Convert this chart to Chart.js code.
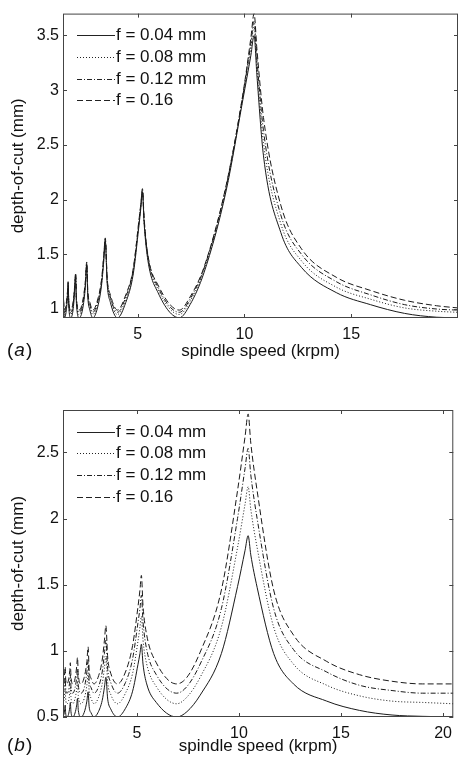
<!DOCTYPE html>
<html>
<head>
<meta charset="utf-8">
<title>depth-of-cut vs spindle speed</title>
<script src="https://cdn.jsdelivr.net/npm/chart.js@4.4.0/dist/chart.umd.min.js"></script>
<style>
  html, body { margin: 0; padding: 0; background: #fff; }
  #wrap { position: relative; width: 459px; height: 763px; }
  canvas { position: absolute; left: 0; }
  #chartA { top: 0; }
  #chartB { top: 370px; }
</style>
</head>
<body>
<div id="wrap">
  <canvas id="chartA" width="459" height="370"></canvas>
  <canvas id="chartB" width="459" height="393"></canvas>
</div>
<script>
// spindle speed samples (krpm), panel (a)
const speedA = [1.50, 1.57, 1.65, 1.71, 1.74, 1.77, 1.86, 1.97, 2.05, 2.09, 2.13, 2.26, 2.42, 2.55, 2.61,
  2.66, 2.76, 2.90, 3.10, 3.30, 3.41, 3.48, 3.57, 3.72, 4.05, 4.44, 4.79, 5.05, 5.15, 5.22, 5.30,
  5.48, 5.95, 6.95, 7.45, 8.10, 9.14, 9.93, 10.30, 10.45, 10.58, 10.89, 11.70, 12.67, 14.30, 15.90, 17.50, 19.00, 20.00];

// depth-of-cut (mm), panel (a)
const depthA1 = [1.12, 0.92, 0.98, 1.11, 1.22, 1.03, 0.92, 0.99, 1.17, 1.30, 1.05, 0.92, 1.00, 1.21, 1.40,
  1.12, 0.99, 0.92, 1.00, 1.21, 1.44, 1.62, 1.23, 1.06, 0.92, 1.06, 1.32, 1.75, 1.93, 2.07, 1.78,
  1.44, 1.15, 0.92, 1.04, 1.33, 2.08, 2.92, 3.32, 3.50, 3.14, 2.40, 1.70, 1.38, 1.15, 1.04, 0.96, 0.925, 0.92];
const depthA2 = [1.14, 0.95, 1.01, 1.13, 1.23, 1.05, 0.95, 1.02, 1.19, 1.31, 1.07, 0.95, 1.03, 1.23, 1.41,
  1.14, 1.02, 0.95, 1.03, 1.23, 1.46, 1.63, 1.25, 1.09, 0.95, 1.09, 1.34, 1.77, 1.95, 2.08, 1.80,
  1.46, 1.18, 0.95, 1.07, 1.35, 2.10, 2.94, 3.39, 3.58, 3.22, 2.52, 1.78, 1.44, 1.20, 1.09, 1.01, 0.98, 0.97];
const depthA3 = [1.16, 0.97, 1.03, 1.15, 1.24, 1.07, 0.97, 1.04, 1.21, 1.32, 1.09, 0.97, 1.05, 1.25, 1.42,
  1.16, 1.04, 0.97, 1.05, 1.25, 1.48, 1.64, 1.27, 1.11, 0.97, 1.11, 1.36, 1.79, 1.96, 2.09, 1.81,
  1.48, 1.20, 0.97, 1.09, 1.37, 2.12, 2.96, 3.43, 3.63, 3.29, 2.63, 1.86, 1.50, 1.25, 1.13, 1.04, 1.00, 0.99];
const depthA4 = [1.17, 0.99, 1.05, 1.16, 1.25, 1.08, 0.99, 1.06, 1.22, 1.33, 1.10, 0.99, 1.07, 1.26, 1.43,
  1.17, 1.06, 0.99, 1.07, 1.26, 1.49, 1.65, 1.28, 1.13, 0.99, 1.13, 1.37, 1.80, 1.97, 2.10, 1.83,
  1.49, 1.22, 0.99, 1.11, 1.38, 2.13, 2.97, 3.48, 3.70, 3.38, 2.75, 1.95, 1.55, 1.29, 1.17, 1.08, 1.03, 1.01];

// spindle speed samples (krpm), panel (b)
const speedB = [1.38, 1.44, 1.49, 1.51, 1.57, 1.65, 1.71, 1.74, 1.77, 1.86, 1.97, 2.05, 2.09, 2.13, 2.26, 2.42,
  2.55, 2.61, 2.66, 2.76, 2.90, 3.10, 3.30, 3.41, 3.48, 3.57, 3.72, 4.05, 4.44, 4.79, 5.05, 5.15, 5.22, 5.30,
  5.48, 5.95, 6.95, 7.45, 8.10, 9.14, 9.93, 10.30, 10.45, 10.58, 10.89, 11.70, 12.67, 14.30, 15.90, 17.50, 19.00, 20.50];

// depth-of-cut (mm), panel (b)
const depthB1 = [0.50, 0.53, 0.59, 0.53, 0.50, 0.52, 0.57, 0.61, 0.54, 0.50, 0.53, 0.59, 0.64, 0.55, 0.50, 0.535,
  0.62, 0.69, 0.58, 0.53, 0.50, 0.535, 0.625, 0.725, 0.80, 0.635, 0.56, 0.50, 0.565, 0.695, 0.895, 0.98, 1.05, 0.90,
  0.75, 0.61, 0.50, 0.54, 0.665, 0.98, 1.485, 1.76, 1.87, 1.725, 1.48, 0.98, 0.75, 0.62, 0.55, 0.515, 0.505, 0.50];
const depthB2 = [0.60, 0.64, 0.71, 0.64, 0.60, 0.62, 0.68, 0.73, 0.65, 0.60, 0.64, 0.71, 0.77, 0.66, 0.60, 0.64,
  0.74, 0.83, 0.70, 0.64, 0.60, 0.64, 0.75, 0.87, 0.96, 0.76, 0.67, 0.60, 0.68, 0.83, 1.07, 1.18, 1.26, 1.08,
  0.90, 0.73, 0.60, 0.65, 0.80, 1.18, 1.78, 2.11, 2.24, 2.07, 1.78, 1.18, 0.90, 0.74, 0.66, 0.62, 0.61, 0.60];
const depthB3 = [0.68, 0.72, 0.80, 0.72, 0.68, 0.70, 0.77, 0.82, 0.73, 0.68, 0.72, 0.80, 0.86, 0.74, 0.68, 0.72,
  0.84, 0.93, 0.78, 0.72, 0.68, 0.72, 0.84, 0.98, 1.08, 0.86, 0.76, 0.68, 0.76, 0.94, 1.21, 1.32, 1.42, 1.22,
  1.01, 0.82, 0.68, 0.73, 0.90, 1.32, 2.00, 2.38, 2.53, 2.33, 2.00, 1.32, 1.01, 0.84, 0.74, 0.70, 0.68, 0.68];
const depthB4 = [0.75, 0.79, 0.88, 0.79, 0.75, 0.78, 0.85, 0.91, 0.81, 0.75, 0.79, 0.88, 0.95, 0.82, 0.75, 0.80,
  0.92, 1.03, 0.86, 0.79, 0.75, 0.80, 0.93, 1.08, 1.19, 0.95, 0.83, 0.75, 0.84, 1.04, 1.33, 1.46, 1.57, 1.34,
  1.12, 0.91, 0.75, 0.80, 0.99, 1.46, 2.21, 2.62, 2.79, 2.57, 2.21, 1.46, 1.12, 0.92, 0.82, 0.77, 0.75, 0.75];

const feedLabels = ['f = 0.04 mm', 'f = 0.08 mm', 'f = 0.12 mm', 'f = 0.16'];

const xTicksA = [5, 10, 15];
const yTicksA = [1, 1.5, 2, 2.5, 3, 3.5];
const xTicksB = [5, 10, 15, 20];
const yTicksB = [0.5, 1, 1.5, 2, 2.5];

const FONT = "'Liberation Sans', Arial, Helvetica, sans-serif";
const dashes = [[], [1, 2], [5, 2, 1, 2], [6, 3]];

// box, inward ticks, inside legend and panel tag (MATLAB look)
const matlabFrame = {
  id: 'matlabFrame',
  afterDraw(chart, args, opts) {
    const { ctx, chartArea: a, scales: { x, y } } = chart;
    ctx.save();
    ctx.strokeStyle = '#444';
    ctx.lineWidth = 1;
    ctx.setLineDash([]);
    ctx.strokeRect(a.left + 0.5, a.top + 0.5, a.right - a.left - 1, a.bottom - a.top - 1);
    ctx.beginPath();
    x.ticks.forEach(t => {
      const px = Math.round(x.getPixelForValue(t.value)) + 0.5;
      ctx.moveTo(px, a.bottom); ctx.lineTo(px, a.bottom - 4);
      ctx.moveTo(px, a.top); ctx.lineTo(px, a.top + 4);
    });
    y.ticks.forEach(t => {
      const py = Math.round(y.getPixelForValue(t.value)) + 0.5;
      ctx.moveTo(a.left, py); ctx.lineTo(a.left + 4, py);
      ctx.moveTo(a.right, py); ctx.lineTo(a.right - 4, py);
    });
    ctx.stroke();

    // legend
    ctx.font = '17px ' + FONT;
    ctx.fillStyle = '#111';
    ctx.textBaseline = 'middle';
    chart.data.datasets.forEach((ds, i) => {
      const ly = Math.round(a.top + 21.5 + i * 21.7) + 0.5;
      ctx.strokeStyle = '#222';
      ctx.setLineDash(ds.borderDash || []);
      ctx.beginPath();
      ctx.moveTo(a.left + 14, ly);
      ctx.lineTo(a.left + 52, ly);
      ctx.stroke();
      ctx.fillText(ds.label, a.left + 53, ly);
    });

    // panel tag, e.g. (a)
    ctx.setLineDash([]);
    let tx = 7;
    const ty = opts.tagY;
    ctx.font = '19px ' + FONT;
    ctx.fillText('(', tx, ty); tx += ctx.measureText('(').width + 1;
    ctx.font = 'italic 19px ' + FONT;
    ctx.fillText(opts.tag, tx, ty); tx += ctx.measureText(opts.tag).width + 1;
    ctx.font = '19px ' + FONT;
    ctx.fillText(')', tx, ty);
    ctx.restore();
  }
};

function makeChart(id, speed, series, xr, yr, xTicks, yTicks, dims) {
  const datasets = series.map((vals, i) => ({
    label: feedLabels[i],
    data: speed.map((s, j) => ({ x: s, y: vals[j] })),
    borderColor: '#1a1a1a',
    borderWidth: 1,
    borderDash: dashes[i],
    pointRadius: 0,
    cubicInterpolationMode: 'monotone',
    fill: false
  }));
  return new Chart(document.getElementById(id), {
    type: 'line',
    data: { datasets },
    plugins: [matlabFrame],
    options: {
      responsive: false,
      animation: false,
      layout: { padding: { top: dims.top, right: 1, left: 0, bottom: 0 } },
      plugins: {
        legend: { display: false },
        tooltip: { enabled: false },
        matlabFrame: { tag: dims.tag, tagY: dims.tagY }
      },
      scales: {
        x: {
          type: 'linear',
          min: xr[0], max: xr[1],
          grid: { display: false, drawTicks: false },
          border: { display: false },
          afterBuildTicks: s => { s.ticks = xTicks.map(v => ({ value: v })); },
          afterFit: s => { s.height = dims.xh; },
          ticks: { color: '#111', padding: 7, font: { family: FONT, size: 16 }, callback: v => String(v) },
          title: {
            display: true, text: 'spindle speed (krpm)', color: '#111',
            font: { family: FONT, size: 17 }, padding: { top: 0, bottom: dims.titlePad }
          }
        },
        y: {
          type: 'linear',
          min: yr[0], max: yr[1],
          grid: { display: false, drawTicks: false },
          border: { display: false },
          afterBuildTicks: s => { s.ticks = yTicks.map(v => ({ value: v })); },
          afterFit: s => { s.width = 63; },
          ticks: { color: '#111', padding: 4, font: { family: FONT, size: 16 }, callback: v => String(v) },
          title: {
            display: true, text: 'depth-of-cut (mm)', color: '#111',
            font: { family: FONT, size: 17 }, padding: { top: 8, bottom: 0 }
          }
        }
      }
    }
  });
}

makeChart('chartA', speedA, [depthA1, depthA2, depthA3, depthA4],
  [1.5, 20], [0.918, 3.7], xTicksA, yTicksA,
  { top: 10, xh: 52, titlePad: 8, tag: 'a', tagY: 351 });

makeChart('chartB', speedB, [depthB1, depthB2, depthB3, depthB4],
  [1.38, 20.5], [0.5, 2.82], xTicksB, yTicksB,
  { top: 40, xh: 46, titlePad: 6, tag: 'b', tagY: 376 });
</script>
</body>
</html>
